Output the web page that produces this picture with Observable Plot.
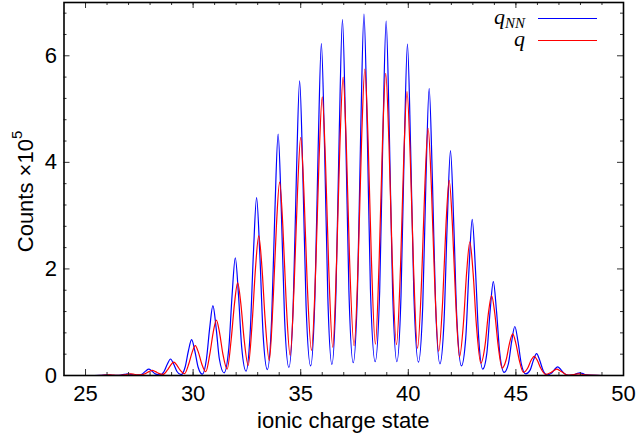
<!DOCTYPE html>
<html><head><meta charset="utf-8">
<script src="https://cdn.jsdelivr.net/npm/d3@7"></script>
<script src="https://cdn.jsdelivr.net/npm/@observablehq/plot@0.6"></script>
<style>html,body{margin:0;padding:0;background:#fff} svg{display:block}</style>
</head><body><div id="chart"></div>
<script>
// ---- Data (counts in units of 1e5) ----
// q_NN (blue)
const qnnPeakX = [25.96, 26.95, 27.94, 28.95, 29.93, 30.92, 31.96, 32.95, 33.95, 34.95, 35.96, 36.94, 37.94, 38.97, 39.96, 40.97, 41.96, 42.97, 43.95, 44.95, 45.96, 46.94, 47.97];
const qnnPeak  = [0.01, 0.03, 0.12, 0.31, 0.675, 1.31, 2.21, 3.34, 4.53, 5.53, 6.23, 6.68, 6.78, 6.65, 6.22, 5.39, 4.22, 2.93, 1.76, 0.92, 0.41, 0.16, 0.05];
const qnnUpper = [0.007, 0.02, 0.082, 0.21, 0.46, 0.89, 1.50, 2.27, 3.08, 3.76, 4.24, 4.54, 4.61, 4.52, 4.23, 3.67, 2.87, 1.99, 1.20, 0.63, 0.28, 0.11, 0.034];
const qnnLower = [0.003, 0.008, 0.03, 0.075, 0.16, 0.31, 0.52, 0.79, 1.07, 1.30, 1.47, 1.59, 1.62, 1.59, 1.49, 1.30, 1.02, 0.71, 0.42, 0.22, 0.10, 0.04, 0.012];
const qnnValleyX = [26.45, 27.45, 28.45, 29.44, 30.43, 31.44, 32.46, 33.45, 34.45, 35.46, 36.45, 37.44, 38.46, 39.47, 40.47, 41.47, 42.47, 43.46, 44.45, 45.46, 46.45, 47.46];
const qnnValley  = [0.003, 0.006, 0.01, 0.015, 0.025, 0.05, 0.08, 0.11, 0.15, 0.18, 0.21, 0.24, 0.26, 0.26, 0.25, 0.22, 0.18, 0.12, 0.06, 0.03, 0.012, 0.004];
const qnnEnds = [[25.4, 0], [49.0, 0]];

// q (red)
const qPeakX = [26.1, 27.1, 28.1, 29.1, 30.1, 31.08, 32.07, 33.05, 34.02, 35.0, 36.0, 36.97, 37.98, 38.95, 39.94, 40.92, 41.9, 42.86, 43.87, 44.85, 45.85, 46.9, 47.9];
const qPeak  = [0.01, 0.03, 0.095, 0.25, 0.56, 1.04, 1.74, 2.62, 3.63, 4.47, 5.23, 5.60, 5.75, 5.67, 5.33, 4.64, 3.66, 2.51, 1.50, 0.78, 0.36, 0.12, 0.03];
const qUpper = [0.008, 0.023, 0.073, 0.19, 0.43, 0.80, 1.34, 2.02, 2.80, 3.44, 4.03, 4.31, 4.43, 4.37, 4.10, 3.57, 2.82, 1.93, 1.16, 0.60, 0.28, 0.09, 0.023];
const qLower = [0.004, 0.012, 0.04, 0.10, 0.22, 0.41, 0.68, 1.03, 1.42, 1.75, 2.04, 2.18, 2.25, 2.22, 2.07, 1.81, 1.42, 0.97, 0.58, 0.30, 0.14, 0.05, 0.012];
const qValleyX = [26.6, 27.6, 28.6, 29.6, 30.59, 31.58, 32.56, 33.54, 34.51, 35.5, 36.49, 37.48, 38.47, 39.45, 40.43, 41.41, 42.38, 43.37, 44.36, 45.35, 46.38, 47.4];
const qValley  = [0.005, 0.01, 0.02, 0.035, 0.07, 0.12, 0.19, 0.28, 0.375, 0.47, 0.53, 0.56, 0.59, 0.58, 0.51, 0.45, 0.35, 0.23, 0.14, 0.06, 0.02, 0.006];
const qEnds = [[25.5, 0], [49.0, 0]];

// ticks
const xTickLabels = [25, 30, 35, 40, 45, 50];
const xMinorTicks = [25, 26, 27, 28, 29, 30, 31, 32, 33, 34, 35, 36, 37, 38, 39, 40, 41, 42, 43, 44, 45, 46, 47, 48, 49];
const yTickLabels = [0, 2, 4, 6];
const yMinorTicks = [0.4, 0.8, 1.2, 1.6, 2.4, 2.8, 3.2, 3.6, 4.4, 4.8, 5.2, 5.6, 6.4, 6.8];

// ---- Build tables ----
function buildSeries(ends, px, pk, up, lo, vx, vy) {
  const pts = [{x: ends[0][0], y: ends[0][1]}];
  for (let i = 0; i < px.length; i++) {
    pts.push({x: px[i] - 0.3, y: lo[i]}, {x: px[i] - 0.15, y: up[i]}, {x: px[i], y: pk[i]},
             {x: px[i] + 0.15, y: up[i]}, {x: px[i] + 0.3, y: lo[i]});
    if (i < vx.length) pts.push({x: vx[i], y: vy[i]});
  }
  pts.push({x: ends[1][0], y: ends[1][1]});
  return pts;
}
const qnnData = buildSeries(qnnEnds, qnnPeakX, qnnPeak, qnnUpper, qnnLower, qnnValleyX, qnnValley);
const qData = buildSeries(qEnds, qPeakX, qPeak, qUpper, qLower, qValleyX, qValley);

// ---- Layout ----
const W = 639, H = 439;
const mL = 63.5, mR = 16, mT = 2, mB = 64;
const fW = W - mL - mR, fH = H - mT - mB;
const FONT = "'Liberation Sans', Arial, Helvetica, sans-serif";

const plot = Plot.plot({
  width: W, height: H,
  marginLeft: mL, marginRight: mR, marginTop: mT, marginBottom: mB,
  style: {fontFamily: FONT, fontSize: "22px", color: "black", background: "white"},
  x: {domain: [24, 50]},
  y: {domain: [0, 7]},
  marks: [
    Plot.line(qnnData, {x: "x", y: "y", stroke: "#0000ff", strokeWidth: 1.2, curve: "monotone-x"}),
    Plot.line(qData, {x: "x", y: "y", stroke: "#ff0000", strokeWidth: 1.2, curve: "monotone-x"}),
    Plot.tickX(xMinorTicks, {x: d => d, insetTop: fH - 3, stroke: "#333", strokeWidth: 1}),
    Plot.tickX(xMinorTicks, {x: d => d, insetBottom: fH - 3, stroke: "#333", strokeWidth: 1}),
    Plot.tickX(xTickLabels, {x: d => d, insetTop: fH - 6, stroke: "#333", strokeWidth: 1}),
    Plot.tickX(xTickLabels, {x: d => d, insetBottom: fH - 6, stroke: "#333", strokeWidth: 1}),
    Plot.tickY(yMinorTicks, {y: d => d, insetRight: fW - 3, stroke: "#333", strokeWidth: 1}),
    Plot.tickY(yMinorTicks, {y: d => d, insetLeft: fW - 3, stroke: "#333", strokeWidth: 1}),
    Plot.tickY(yTickLabels, {y: d => d, insetRight: fW - 6, stroke: "#333", strokeWidth: 1}),
    Plot.tickY(yTickLabels, {y: d => d, insetLeft: fW - 6, stroke: "#333", strokeWidth: 1}),
    Plot.axisX(xTickLabels, {anchor: "bottom", tickSize: 0, tickPadding: 10, label: null, fill: "black", tickFormat: d => String(d)}),
    Plot.axisY(yTickLabels, {anchor: "left", tickSize: 0, tickPadding: 7, label: null, fill: "black", tickFormat: d => String(d)}),
    Plot.frame({stroke: "black", strokeWidth: 1.6})
  ]
});
document.getElementById("chart").appendChild(plot);

// ---- Axis titles and legend ----
const svg = d3.select(plot);
svg.append("text")
  .attr("x", mL + fW / 2).attr("y", 428)
  .attr("text-anchor", "middle")
  .style("font-family", FONT).style("font-size", "22px").attr("fill", "black")
  .text("ionic charge state");

const yl = svg.append("text")
  .attr("transform", `translate(33,${mT + fH / 2 + 3}) rotate(-90)`)
  .attr("text-anchor", "middle")
  .style("font-family", FONT).style("font-size", "22px").attr("fill", "black");
yl.append("tspan").text("Counts \u00d710");
yl.append("tspan").attr("dy", -11).style("font-size", "15px").text("5");

const SERIF = "'Liberation Serif', 'Times New Roman', serif";
const leg1 = svg.append("text")
  .attr("x", 525).attr("y", 24).attr("text-anchor", "end")
  .style("font-family", SERIF).style("font-style", "italic").style("font-size", "22px").attr("fill", "black");
leg1.append("tspan").text("q");
leg1.append("tspan").attr("dy", 4).style("font-size", "15px").text("NN");
svg.append("line").attr("x1", 538).attr("x2", 597).attr("y1", 18.5).attr("y2", 18.5)
  .attr("stroke", "#0000ff").attr("stroke-width", 1.2);

svg.append("text")
  .attr("x", 525).attr("y", 46).attr("text-anchor", "end")
  .style("font-family", SERIF).style("font-style", "italic").style("font-size", "22px").attr("fill", "black")
  .text("q");
svg.append("line").attr("x1", 538).attr("x2", 597).attr("y1", 40.5).attr("y2", 40.5)
  .attr("stroke", "#ff0000").attr("stroke-width", 1.2);
</script>
</body></html>
